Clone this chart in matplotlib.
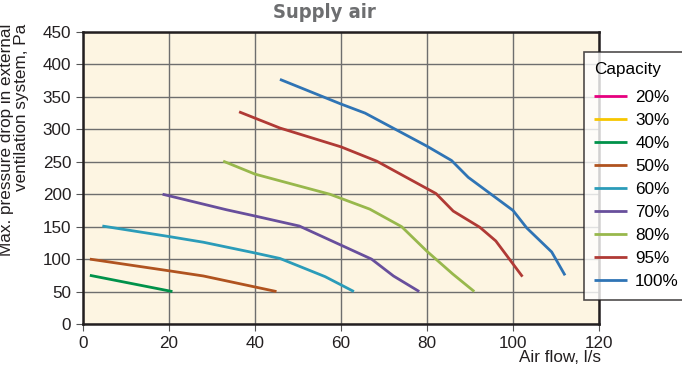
import matplotlib
matplotlib.use("Agg")
import matplotlib.pyplot as plt

# data (air flow l/s, pressure drop Pa)
capacities = ["20%", "30%", "40%", "50%", "60%", "70%", "80%", "95%", "100%"]
colors = ["#e6007e", "#f7c600", "#00924a", "#b0531f", "#2b9cb9",
          "#684f9c", "#98b84c", "#b03a35", "#2f74b5"]

flow_20, drop_20 = [], []
flow_30, drop_30 = [], []
flow_40 = [1.6, 20.8]
drop_40 = [75, 50]
flow_50 = [1.6, 20, 28, 45]
drop_50 = [100, 82, 74, 50]
flow_60 = [4.5, 19.8, 28, 39.6, 45.8, 56.3, 63]
drop_60 = [151, 135, 126, 110, 101, 73, 50]
flow_70 = [18.5, 33.4, 39.6, 50.3, 67.1, 72.2, 78.2]
drop_70 = [200, 176, 167, 151, 100, 74, 50]
flow_80 = [32.6, 40, 57.4, 66.7, 74.1, 80, 86, 91]
drop_80 = [251, 231, 200, 177, 150, 112, 77, 50]
flow_95 = [36.3, 45.8, 60, 68.3, 82.1, 86.1, 92.3, 96, 102.2]
drop_95 = [327, 302, 273, 251, 201, 174, 149, 128, 73]
flow_100 = [45.8, 60, 65.6, 80, 85.7, 89.6, 100, 103.2, 109, 112.1]
drop_100 = [377, 339, 325, 274, 252, 226, 175, 148, 111, 75]

flows = [flow_20, flow_30, flow_40, flow_50, flow_60,
         flow_70, flow_80, flow_95, flow_100]
drops = [drop_20, drop_30, drop_40, drop_50, drop_60,
         drop_70, drop_80, drop_95, drop_100]

plt.rcParams['font.family'] = ['Liberation Sans', 'DejaVu Sans']
FS = 12.3

fig = plt.figure(figsize=(6.82, 3.71), dpi=100)
ax = fig.add_axes([83 / 682, 1 - 324 / 371, 516 / 682, 292 / 371])
ax.set_facecolor("#fdf5e2")

for cap, col, fl, dr in zip(capacities, colors, flows, drops):
    ax.plot(fl, dr, color=col, lw=2, label=cap, solid_capstyle='butt')

ax.set_xlim(0, 120)
ax.set_ylim(0, 450)
ax.set_xticks(range(0, 121, 20))
ax.set_yticks(range(0, 451, 50))
ax.grid(True, color="#6e6e6e", lw=1)
ax.set_axisbelow(True)
for sp in ax.spines.values():
    sp.set_color("#231f20")
    sp.set_linewidth(1.8)
ax.tick_params(labelsize=FS, length=5, width=0.8, color="#555555",
               pad=3.5, labelcolor="#231f20")

fig.text(324 / 682, 1 - 12 / 371, "Supply air",
         ha='center', va='center', fontsize=14.5, fontweight='bold',
         color="#6d6e70", fontstretch='condensed',
         family=['DejaVu Sans'])
fig.text(601 / 682, 1 - 358 / 371, "Air flow, l/s", ha='right',
         va='center', fontsize=FS, color="#231f20")
fig.text(14 / 682, 1 - 24 / 371,
         "Max. pressure drop in external\nventilation system, Pa",
         rotation=90, ha='center', va='top', multialignment='right',
         fontsize=FS, color="#231f20", linespacing=0.95)

leg = fig.legend(loc='upper left', bbox_to_anchor=(584 / 682, 1 - 52 / 371),
                 title="Capacity", fontsize=FS, title_fontsize=FS,
                 frameon=True, fancybox=False, handlelength=1.9,
                 handletextpad=0.5, labelspacing=0.47, borderpad=0.6,
                 borderaxespad=0)
leg._legend_box.align = "left"
leg._legend_box.sep = FS * 0.75
leg.get_frame().set_edgecolor("#231f20")
leg.get_frame().set_linewidth(1.2)

fig.savefig("out.png", dpi=100)
